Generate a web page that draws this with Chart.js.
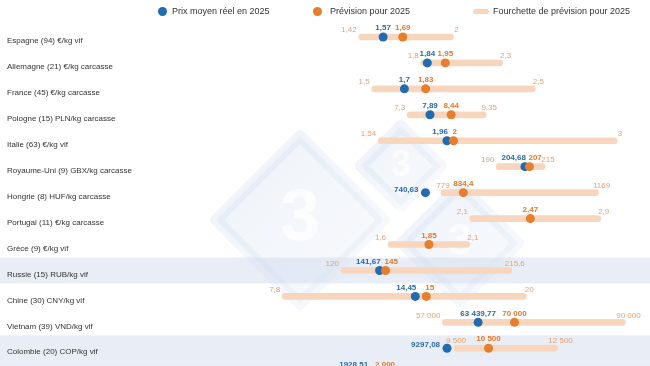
<!DOCTYPE html>
<html lang="fr">
<head>
<meta charset="utf-8">
<title>Prix du porc 2025</title>
<script src="https://cdn.jsdelivr.net/npm/chart.js@4.4.1/dist/chart.umd.min.js"></script>
<style>
    html, body { margin: 0; padding: 0; background: #fff; overflow: hidden; }
    #wrap { position: relative; width: 650px; height: 366px; overflow: hidden; }
    #chart { position: absolute; left: 0; top: 0; }
    .legend { position: absolute; top: 0; left: 0; width: 650px; height: 22px;
              font: 9px 'Liberation Sans', Arial, sans-serif; color: #333; }
    .legend span { position: absolute; top: 6px; line-height: 10px; white-space: nowrap; }
    .legend i { position: absolute; display: block; }
    .dot { width: 9px; height: 9px; border-radius: 50%; top: 6.5px; }
    .swatch { width: 16px; height: 5px; border-radius: 3px; top: 9px; background: #f8d5bd; }
</style>
</head>
<body>
<div id="wrap">
    <canvas id="chart" width="650" height="392"></canvas>
    <div class="legend">
        <i class="dot" style="left:158px;background:#216bb0"></i><span style="left:172px">Prix moyen réel en 2025</span>
        <i class="dot" style="left:313px;background:#e67e2e"></i><span style="left:330px">Prévision pour 2025</span>
        <i class="swatch" style="left:473px"></i><span style="left:493px">Fourchette de prévision pour 2025</span>
    </div>
</div>
<script>
const FONT = "'Liberation Sans', Arial, sans-serif";
const BLUE = '#216bb0';
const ORANGE = '#e67e2e';
const RANGE_FILL = '#f8d5bd';
const RANGE_TXT = '#e3a272';

const rowLabels = [
    'Espagne (94) €/kg vif',
    'Allemagne (21) €/kg carcasse',
    'France (45) €/kg carcasse',
    'Pologne (15) PLN/kg carcasse',
    'Italie (63) €/kg vif',
    'Royaume-Uni (9) GBX/kg carcasse',
    'Hongrie (8) HUF/kg carcasse',
    'Portugal (11) €/kg carcasse',
    'Grèce (9) €/kg vif',
    'Russie (15) RUB/kg vif',
    'Chine (30) CNY/kg vif',
    'Vietnam (39) VND/kg vif',
    'Colombie (20) COP/kg vif',
    'Argentine ARS/kg vif'
];
const actualPrice   = [1.57, 1.84, 1.7, 7.89, 1.96, 204.68, 740.63, null, null, 141.67, 14.45, 63439.77, 9297.08, 1928.51];
const forecastPrice = [1.69, 1.95, 1.83, 8.44, 2, 207, 834.4, 2.47, 1.85, 145, 15, 70000, 10500, 2000];
const rangeLow      = [1.42, 1.8, 1.5, 7.3, 1.54, 190, 779, 2.1, 1.6, 120, 7.8, 57000, 9500, null];
const rangeHigh     = [2, 2.3, 2.5, 9.35, 3, 215, 1169, 2.9, 2.1, 215.6, 20, 90000, 12500, null];
// every row is placed on a common € axis
const eurPerUnit    = [1, 1, 1, 1 / 4.25, 1, 1 / 84, 1 / 405, 1, 1, 1 / 91.5, 1 / 8.18, 1 / 29500, 1 / 4742, 1 / 1310];
const shadedRows = [9, 12, 13];

function fmt(v) {
    const [int, dec] = String(v).split('.');
    const grouped = (v >= 10000 || v % 100 === 0) ? int.replace(/\B(?=(\d{3})+(?!\d))/g, ' ') : int;
    return dec ? grouped + ',' + dec : grouped;
}

const ranges = rangeLow.map((lo, i) => lo == null ? null : [lo * eurPerUnit[i], rangeHigh[i] * eurPerUnit[i]]);
const actualPts = rowLabels.map((l, i) => actualPrice[i] == null ? null : { x: actualPrice[i] * eurPerUnit[i], y: l }).filter(Boolean);
const forecastPts = rowLabels.map((l, i) => ({ x: forecastPrice[i] * eurPerUnit[i], y: l }));

function diamond(ctx, cx, cy, h) {
    ctx.beginPath();
    ctx.moveTo(cx, cy - h);
    ctx.lineTo(cx + h, cy);
    ctx.lineTo(cx, cy + h);
    ctx.lineTo(cx - h, cy);
    ctx.closePath();
}

const background = {
    id: 'background',
    beforeDraw(chart) {
        const { ctx, scales: { y } } = chart;
        const step = y.getPixelForValue(1) - y.getPixelForValue(0);
        ctx.save();
        ctx.fillStyle = '#e9eef6';
        shadedRows.forEach(i => {
            const yc = y.getPixelForValue(i);
            ctx.fillRect(0, yc - step / 2, chart.width, step);
        });
        // faint logo watermark
        const marks = [[300, 220, 84, 72], [401, 166, 40, 36], [460, 243, 58, 44]];
        ctx.lineJoin = 'round';
        marks.forEach(([cx, cy, h, fs]) => {
            diamond(ctx, cx, cy, h);
            const g = ctx.createLinearGradient(cx - h, cy - h, cx + h, cy + h);
            g.addColorStop(0, 'rgba(200,215,236,0.30)');
            g.addColorStop(1, 'rgba(200,215,236,0.12)');
            ctx.fillStyle = g;
            ctx.strokeStyle = g;
            ctx.lineWidth = 12;
            ctx.fill();
            ctx.stroke();
            ctx.fillStyle = 'rgba(255,255,255,0.7)';
            ctx.font = 'bold ' + fs + 'px ' + FONT;
            ctx.textAlign = 'center';
            ctx.textBaseline = 'middle';
            ctx.fillText('3', cx, cy);
        });
        ctx.restore();
    }
};

const valueLabels = {
    id: 'valueLabels',
    afterDatasetsDraw(chart) {
        const { ctx, scales: { x, y } } = chart;
        ctx.save();
        ctx.textBaseline = 'middle';
        rowLabels.forEach((label, i) => {
            const yc = y.getPixelForValue(i);
            const r = eurPerUnit[i];
            const outside = rangeLow[i] != null && actualPrice[i] != null && actualPrice[i] < rangeLow[i];

            if (rangeLow[i] != null) {
                const x0 = x.getPixelForValue(rangeLow[i] * r);
                const x1 = x.getPixelForValue(rangeHigh[i] * r);
                ctx.font = '8px ' + FONT;
                ctx.fillStyle = RANGE_TXT;
                ctx.textAlign = outside ? 'center' : 'right';
                ctx.fillText(fmt(rangeLow[i]), outside ? x0 + 2 : x0 - 2, yc - 7);
                ctx.textAlign = 'center';
                ctx.fillText(fmt(rangeHigh[i]), x1 + 3, yc - 7);
            }

            const xf = x.getPixelForValue(forecastPrice[i] * r);
            const xa = actualPrice[i] != null ? x.getPixelForValue(actualPrice[i] * r) : null;
            const close = xa != null && Math.abs(xf - xa) < 12;
            ctx.font = 'bold 8px ' + FONT;
            if (xa != null) {
                ctx.fillStyle = '#2c6aa6';
                if (outside) {
                    ctx.textAlign = 'right';
                    ctx.fillText(fmt(actualPrice[i]), xa - 7, yc - 3);
                } else if (close) {
                    ctx.textAlign = 'right';
                    ctx.fillText(fmt(actualPrice[i]), xa + 1, yc - 9);
                } else {
                    ctx.textAlign = 'center';
                    ctx.fillText(fmt(actualPrice[i]), xa, yc - 9);
                }
            }
            ctx.fillStyle = '#e07a2a';
            ctx.textAlign = close ? 'left' : 'center';
            ctx.fillText(fmt(forecastPrice[i]), close ? xf - 1 : xf, yc - 9);
        });
        ctx.restore();
    }
};

new Chart(document.getElementById('chart').getContext('2d'), {
    type: 'bar',
    data: {
        labels: rowLabels,
        datasets: [
            {
                type: 'scatter',
                label: 'Prévision pour 2025',
                data: forecastPts,
                backgroundColor: ORANGE,
                borderWidth: 0,
                pointRadius: 4.5
            },
            {
                type: 'scatter',
                label: 'Prix moyen réel en 2025',
                data: actualPts,
                backgroundColor: BLUE,
                borderWidth: 0,
                pointRadius: 4.5
            },
            {
                label: 'Fourchette de prévision pour 2025',
                data: ranges,
                backgroundColor: RANGE_FILL,
                barThickness: 6,
                borderRadius: 3,
                borderSkipped: false,
                grouped: false
            }
        ]
    },
    options: {
        indexAxis: 'y',
        responsive: false,
        animation: false,
        events: [],
        layout: { padding: { top: 24, bottom: 2, left: 7, right: 10 } },
        plugins: { legend: { display: false }, tooltip: { enabled: false } },
        scales: {
            x: { type: 'linear', min: 0.573, max: 3.14, display: false },
            y: {
                type: 'category',
                labels: rowLabels,
                offset: true,
                grid: { display: false },
                border: { display: false },
                ticks: {
                    crossAlign: 'far',
                    labelOffset: 4,
                    padding: 0,
                    autoSkip: false,
                    color: '#333',
                    font: { size: 8, family: FONT }
                },
                afterFit: s => { s.width = 213; }
            }
        }
    },
    plugins: [background, valueLabels]
});
</script>
</body>
</html>
